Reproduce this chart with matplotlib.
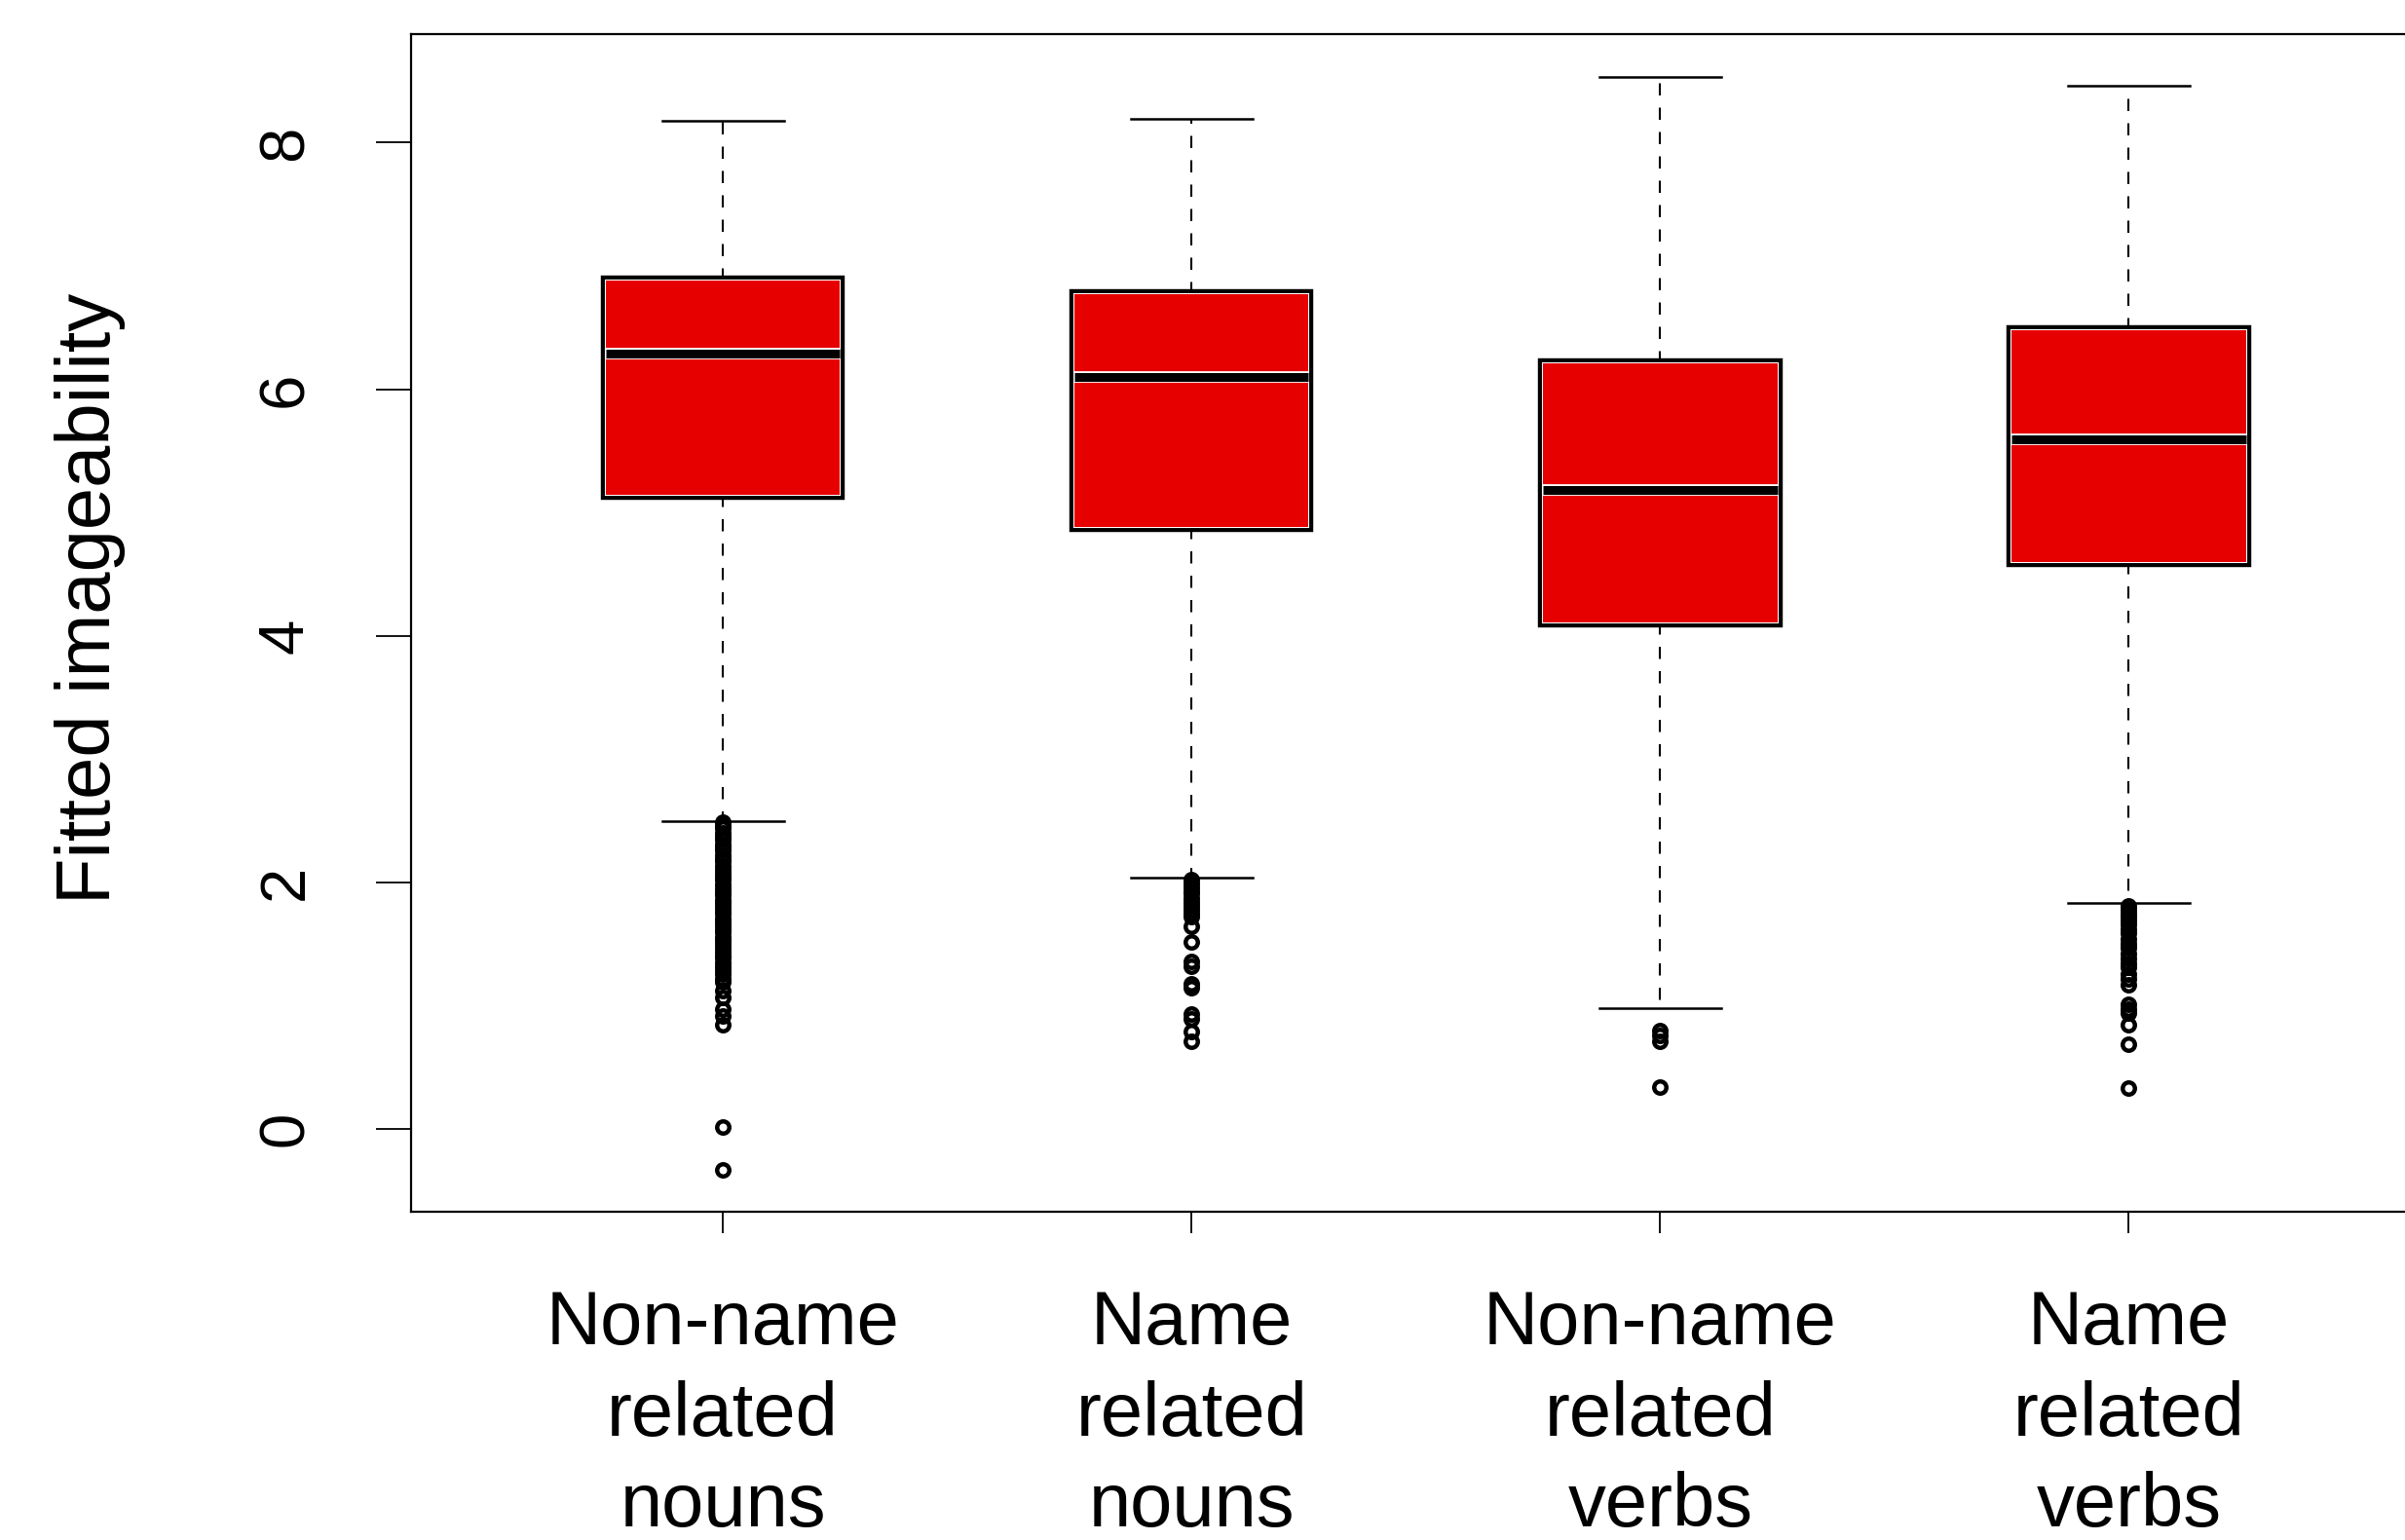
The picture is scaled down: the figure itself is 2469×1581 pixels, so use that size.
import matplotlib
matplotlib.use("Agg")
import matplotlib.pyplot as plt
import matplotlib.patheffects as pe

plt.rcParams['font.family'] = ['Liberation Sans', 'DejaVu Sans']

# values
categories = ["Non-name\nrelated\nnouns", "Name\nrelated\nnouns",
              "Non-name\nrelated\nverbs", "Name\nrelated\nverbs"]
medians = [6.29, 6.10, 5.18, 5.59]
q1 = [5.14, 4.88, 4.11, 4.60]
q3 = [6.88, 6.77, 6.21, 6.48]
whisker_low = [2.50, 2.04, 0.98, 1.83]
whisker_high = [8.18, 8.19, 8.53, 8.46]

outliers_1 = [2.49, 2.46, 2.44, 2.40, 2.37, 2.35, 2.31, 2.28, 2.26, 2.22, 2.19, 2.17,
              2.13, 2.10, 2.07, 2.04, 2.02, 1.98, 1.95, 1.92, 1.90, 1.86, 1.83, 1.80,
              1.77, 1.75, 1.71, 1.68, 1.65, 1.62, 1.60, 1.56, 1.53, 1.50, 1.47, 1.44,
              1.41, 1.39, 1.35, 1.32, 1.29, 1.26, 1.22, 1.19, 1.12, 1.07, 0.97, 0.92,
              0.85, 0.02, -0.33]
outliers_2 = [2.02, 1.99, 1.96, 1.93, 1.91, 1.87, 1.84, 1.81, 1.78, 1.75, 1.72, 1.64,
              1.52, 1.36, 1.32, 1.18, 1.15, 0.93, 0.89, 0.79, 0.71]
outliers_3 = [0.80, 0.76, 0.71, 0.34]
outliers_4 = [1.81, 1.78, 1.75, 1.72, 1.69, 1.66, 1.62, 1.59, 1.54, 1.50, 1.47, 1.42,
              1.38, 1.34, 1.31, 1.26, 1.22, 1.17, 1.01, 0.97, 0.94, 0.85, 0.69, 0.33]
outliers = [outliers_1, outliers_2, outliers_3, outliers_4]

stats = []
for i in range(4):
    stats.append(dict(med=medians[i], q1=q1[i], q3=q3[i],
                      whislo=whisker_low[i], whishi=whisker_high[i],
                      fliers=outliers[i]))

fig = plt.figure(figsize=(24.69, 15.81), dpi=100)
ax = fig.add_axes([0.171, 0.2132, 0.8437, 0.7647])

res = ax.bxp(stats, positions=[1, 2, 3, 4], widths=0.5, capwidths=0.26,
             patch_artist=True, showfliers=True,
             boxprops=dict(facecolor='#e60000', edgecolor='none', linewidth=0),
             whiskerprops=dict(color='black', linewidth=1.5, linestyle=(0, (6, 6))),
             capprops=dict(color='black', linewidth=1.8),
             medianprops=dict(color='black', linewidth=6.5, solid_capstyle='butt'),
             flierprops=dict(marker='o', markerfacecolor='none', markeredgecolor='black',
                             markersize=9, markeredgewidth=3.2, linestyle='none'))

# black outer border with a thin white inner line, as in the original
for box in res['boxes']:
    box.set_path_effects([pe.Stroke(linewidth=7.5, foreground='black'),
                          pe.Stroke(linewidth=1.5, foreground='white'),
                          pe.Normal()])
    box.set_zorder(2.5)
for med in res['medians']:
    med.set_path_effects([pe.Stroke(linewidth=8.5, foreground='white', capstyle='butt'),
                          pe.Stroke(linewidth=6.5, foreground='black', capstyle='butt')])
    med.set_zorder(2.6)

ax.set_xlim(0.335, 4.665)
ax.set_ylim(-0.67, 8.88)
ax.set_yticks([0, 2, 4, 6, 8])
ax.set_xticks([1, 2, 3, 4])
ax.set_xticklabels(categories, fontsize=56, linespacing=1.36)
ax.tick_params(axis='y', length=26, width=1.3, pad=45, labelsize=47)
ax.tick_params(axis='x', length=16, width=1.3, pad=41)
for lab in ax.get_yticklabels():
    lab.set_rotation(90)
    lab.set_va('center')

for s in ax.spines.values():
    s.set_linewidth(1.6)

fig.text(0.0376, 0.6116, "Fitted imageability", rotation=90, ha='center', va='center',
         fontsize=56)

fig.savefig("out.png", dpi=100)
